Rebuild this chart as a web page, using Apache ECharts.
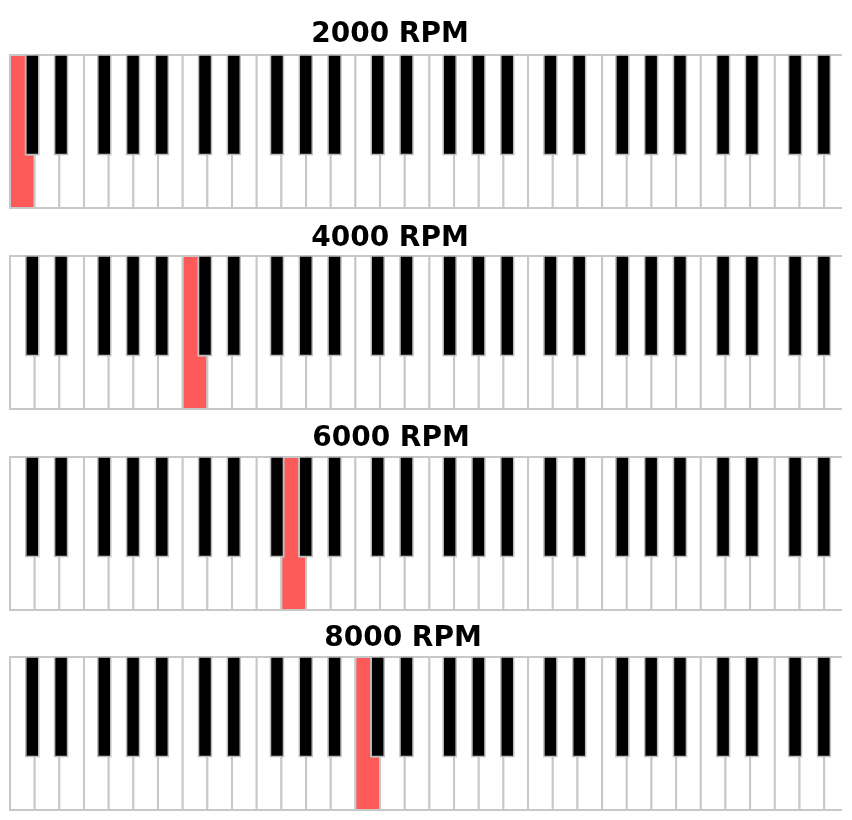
<!DOCTYPE html>
<html><head><meta charset="utf-8">
<script src="https://cdn.jsdelivr.net/npm/echarts@6/dist/echarts.min.js"></script>
<style>html,body{margin:0;padding:0;background:#fff}#c{width:852px;height:820px}</style>
</head><body><div id="c"></div>
<script>
// ---- data ----
const titles = ['2000 RPM', '4000 RPM', '6000 RPM', '8000 RPM'];
const pressedKey = [0, 7, 11, 14];            // index of pressed white key (C, C, G, C)
const whiteNotes = ['C', 'D', 'E', 'F', 'G', 'A', 'B'];
const blackSemitones = [1, 3, 6, 8, 10];      // C#, D#, F#, G#, A# within an octave
const whiteKeyCount = 34;
const octaveCount = 5;

// ---- layout ----
const X_MAX = 57.81;                           // semitone units visible
const gridTops = [55, 256, 457, 657];
const gridHeight = 153;
const titleX = [390, 390, 391, 403];
const titleY = [35, 239, 439, 639];
const blackBottom = 0.35;

const whiteKeys = [];
for (let k = 0; k < whiteKeyCount; k++) whiteKeys.push([k * 12 / 7, (k + 1) * 12 / 7]);
const blackKeys = [];
for (let o = 0; o < octaveCount; o++) {
  blackSemitones.forEach(s => {
    const x0 = 12 * o + s + 0.1;
    if (x0 < X_MAX) blackKeys.push([x0, x0 + 0.9]);
  });
}

function renderWhite(params, api) {
  const rawX1 = api.value(1);
  const x0 = api.value(0), x1 = Math.min(rawX1, X_MAX), pressed = api.value(2);
  const a = api.coord([x0, 0]), b = api.coord([x1, 1]);
  if (!pressed) {
    if (rawX1 > X_MAX) {
      return { type: 'group', children: [
        { type: 'rect', shape: { x: a[0], y: b[1], width: b[0] - a[0], height: a[1] - b[1] },
          style: { fill: '#ffffff' } },
        { type: 'polyline', shape: { points: [[b[0], b[1]], [a[0], b[1]], [a[0], a[1]], [b[0], a[1]]] },
          style: { fill: null, stroke: '#c8c8c8', lineWidth: 2 } }
      ] };
    }
    return { type: 'rect', shape: { x: a[0], y: b[1], width: b[0] - a[0], height: a[1] - b[1] },
      style: { fill: '#ffffff', stroke: '#c8c8c8', lineWidth: 2 } };
  }
  let xl = x0, xr = x1;
  const mid = (x0 + x1) / 2;
  blackKeys.forEach(bk => {
    if (bk[1] > x0 && bk[0] < x1) {
      if ((bk[0] + bk[1]) / 2 < mid) xl = Math.max(xl, bk[1]); else xr = Math.min(xr, bk[0]);
    }
  });
  const pts = [[xl, 1], [xr, 1], [xr, blackBottom], [x1, blackBottom], [x1, 0], [x0, 0], [x0, blackBottom], [xl, blackBottom]]
    .map(p => api.coord(p));
  return { type: 'polygon', shape: { points: pts },
    style: { fill: '#ff5a5a', stroke: '#c8c8c8', lineWidth: 2 } };
}

function renderBlack(params, api) {
  const a = api.coord([api.value(0), blackBottom]), b = api.coord([api.value(1), 1]);
  return { type: 'rect', shape: { x: a[0], y: b[1], width: b[0] - a[0], height: a[1] - b[1] },
    style: { fill: '#000000', stroke: '#bdbdbd', lineWidth: 1.5 } };
}

const grids = [], xAxes = [], yAxes = [], series = [], graphics = [];
titles.forEach((t, i) => {
  grids.push({ left: 10, width: 832, top: gridTops[i], height: gridHeight });
  xAxes.push({ gridIndex: i, type: 'value', min: 0, max: X_MAX, show: false });
  yAxes.push({ gridIndex: i, type: 'value', min: 0, max: 1, show: false });
  series.push({
    type: 'custom', xAxisIndex: i, yAxisIndex: i, renderItem: renderWhite,
    encode: { x: [0, 1] },
    data: whiteKeys.map((w, k) => [w[0], w[1], k === pressedKey[i] ? 1 : 0])
  });
  series.push({
    type: 'custom', xAxisIndex: i, yAxisIndex: i, renderItem: renderBlack,
    encode: { x: [0, 1] }, z: 3,
    data: blackKeys.map(b => [b[0], b[1]])
  });
  graphics.push({
    type: 'text', x: titleX[i], y: titleY[i],
    style: { text: t, fontSize: 28, fontWeight: 'bold', fontFamily: '"DejaVu Sans"',
      fill: '#000', textAlign: 'center', textVerticalAlign: 'middle' }
  });
});

const chart = echarts.init(document.getElementById('c'));
chart.setOption({
  animation: false,
  backgroundColor: '#ffffff',
  grid: grids, xAxis: xAxes, yAxis: yAxes, series: series, graphic: graphics
});
</script>
</body></html>
